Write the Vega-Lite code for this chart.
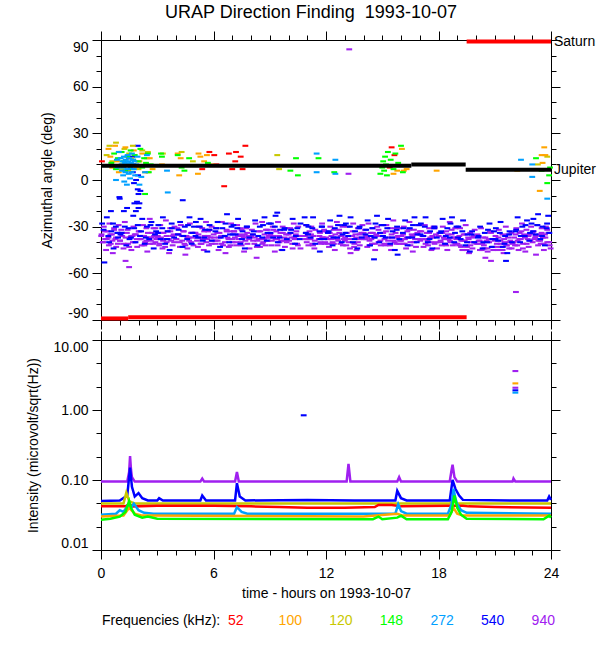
{
  "$schema": "https://vega.github.io/schema/vega-lite/v6.json",
  "title": {"text": "URAP Direction Finding \u00a01993-10-07", "anchor": "middle", "offset": 8},
  "padding": {"left": 25, "top": 4, "right": 2, "bottom": 2},
  "bounds": "flush",
  "spacing": 20,
  "datasets": {
    "angles": [
      {"t":0.03,"a":-35,"f":940},{"t":0.09,"a":-40,"f":940},{"t":0.15,"a":-30,"f":940},{"t":0.22,"a":-38,"f":940},{"t":0.27,"a":-45,"f":940},{"t":0.34,"a":-33,"f":940},{"t":0.4,"a":-37,"f":940},{"t":0.45,"a":-28,"f":940},{"t":0.52,"a":-41,"f":940},{"t":0.58,"a":-35,"f":940},{"t":0.63,"a":-47,"f":940},{"t":0.7,"a":-31,"f":940},{"t":0.76,"a":-38,"f":940},{"t":0.81,"a":-43,"f":940},{"t":0.88,"a":-34,"f":940},{"t":0.94,"a":-29,"f":940},
      {"t":1.02,"a":-39,"f":940},{"t":1.08,"a":-32,"f":940},{"t":1.13,"a":-36,"f":940},{"t":1.2,"a":-44,"f":940},{"t":1.27,"a":-27,"f":940},{"t":1.31,"a":-52,"f":940},{"t":1.38,"a":-34,"f":940},{"t":1.44,"a":-41,"f":940},{"t":1.5,"a":-56,"f":940},{"t":1.55,"a":-37,"f":940},{"t":1.62,"a":-45,"f":940},{"t":1.68,"a":-36,"f":940},{"t":1.73,"a":-30,"f":940},{"t":1.8,"a":-40,"f":940},{"t":1.86,"a":-35,"f":940},{"t":1.93,"a":-43,"f":940},
      {"t":2.05,"a":-33,"f":940},{"t":2.1,"a":-38,"f":940},{"t":2.17,"a":-42,"f":940},{"t":2.24,"a":-29,"f":940},{"t":2.3,"a":-36,"f":940},{"t":2.35,"a":-40,"f":940},{"t":2.42,"a":-31,"f":940},{"t":2.47,"a":-46,"f":940},{"t":2.54,"a":-37,"f":940},{"t":2.6,"a":-25,"f":940},{"t":2.66,"a":-39,"f":940},{"t":2.71,"a":-34,"f":940},{"t":2.78,"a":-41,"f":940},{"t":2.83,"a":-36,"f":940},{"t":2.9,"a":-31,"f":940},{"t":2.96,"a":-38,"f":940},
      {"t":3.03,"a":-36,"f":940},{"t":3.1,"a":-42,"f":940},{"t":3.16,"a":-29,"f":940},{"t":3.2,"a":-37,"f":940},{"t":3.28,"a":-44,"f":940},{"t":3.33,"a":-34,"f":940},{"t":3.4,"a":-38,"f":940},{"t":3.46,"a":-26,"f":940},{"t":3.5,"a":-40,"f":940},{"t":3.57,"a":-33,"f":940},{"t":3.63,"a":-47,"f":940},{"t":3.69,"a":-31,"f":940},{"t":3.74,"a":-39,"f":940},{"t":3.82,"a":-42,"f":940},{"t":3.87,"a":-35,"f":940},{"t":3.92,"a":-30,"f":940},
      {"t":4.02,"a":-38,"f":940},{"t":4.07,"a":-31,"f":940},{"t":4.15,"a":-35,"f":940},{"t":4.21,"a":-43,"f":940},{"t":4.26,"a":-29,"f":940},{"t":4.33,"a":-39,"f":940},{"t":4.38,"a":-33,"f":940},{"t":4.45,"a":-41,"f":940},{"t":4.5,"a":-48,"f":940},{"t":4.56,"a":-36,"f":940},{"t":4.61,"a":-44,"f":940},{"t":4.69,"a":-37,"f":940},{"t":4.74,"a":-28,"f":940},{"t":4.8,"a":-40,"f":940},{"t":4.85,"a":-34,"f":940},{"t":4.93,"a":-42,"f":940},
      {"t":5.04,"a":-34,"f":940},{"t":5.12,"a":-39,"f":940},{"t":5.17,"a":-43,"f":940},{"t":5.22,"a":-30,"f":940},{"t":5.3,"a":-37,"f":940},{"t":5.36,"a":-41,"f":940},{"t":5.4,"a":-31,"f":940},{"t":5.48,"a":-45,"f":940},{"t":5.53,"a":-36,"f":940},{"t":5.6,"a":-27,"f":940},{"t":5.65,"a":-38,"f":940},{"t":5.72,"a":-33,"f":940},{"t":5.76,"a":-42,"f":940},{"t":5.84,"a":-37,"f":940},{"t":5.9,"a":-30,"f":940},{"t":5.95,"a":-39,"f":940},
      {"t":6.03,"a":-37,"f":940},{"t":6.1,"a":-41,"f":940},{"t":6.14,"a":-31,"f":940},{"t":6.22,"a":-39,"f":940},{"t":6.27,"a":-45,"f":940},{"t":6.32,"a":-34,"f":940},{"t":6.4,"a":-36,"f":940},{"t":6.45,"a":-27,"f":940},{"t":6.51,"a":-42,"f":940},{"t":6.58,"a":-36,"f":940},{"t":6.64,"a":-47,"f":940},{"t":6.7,"a":-32,"f":940},{"t":6.75,"a":-37,"f":940},{"t":6.82,"a":-43,"f":940},{"t":6.88,"a":-33,"f":940},{"t":6.94,"a":-28,"f":940},
      {"t":7.02,"a":-40,"f":940},{"t":7.09,"a":-33,"f":940},{"t":7.14,"a":-37,"f":940},{"t":7.21,"a":-42,"f":940},{"t":7.26,"a":-29,"f":940},{"t":7.33,"a":-38,"f":940},{"t":7.37,"a":-35,"f":940},{"t":7.45,"a":-40,"f":940},{"t":7.5,"a":-32,"f":940},{"t":7.55,"a":-36,"f":940},{"t":7.63,"a":-46,"f":940},{"t":7.67,"a":-35,"f":940},{"t":7.74,"a":-31,"f":940},{"t":7.81,"a":-41,"f":940},{"t":7.86,"a":-36,"f":940},{"t":7.92,"a":-44,"f":940},
      {"t":8.05,"a":-32,"f":940},{"t":8.11,"a":-39,"f":940},{"t":8.18,"a":-41,"f":940},{"t":8.24,"a":-28,"f":940},{"t":8.3,"a":-50,"f":940},{"t":8.34,"a":-39,"f":940},{"t":8.41,"a":-33,"f":940},{"t":8.48,"a":-43,"f":940},{"t":8.52,"a":-38,"f":940},{"t":8.59,"a":-27,"f":940},{"t":8.65,"a":-40,"f":940},{"t":8.72,"a":-35,"f":940},{"t":8.78,"a":-42,"f":940},{"t":8.84,"a":-37,"f":940},{"t":8.89,"a":-32,"f":940},{"t":8.96,"a":-36,"f":940},
      {"t":9.03,"a":-35,"f":940},{"t":9.1,"a":-42,"f":940},{"t":9.16,"a":-30,"f":940},{"t":9.21,"a":-36,"f":940},{"t":9.27,"a":-46,"f":940},{"t":9.35,"a":-33,"f":940},{"t":9.4,"a":-38,"f":940},{"t":9.44,"a":-27,"f":940},{"t":9.52,"a":-40,"f":940},{"t":9.57,"a":-34,"f":940},{"t":9.63,"a":-45,"f":940},{"t":9.69,"a":-30,"f":940},{"t":9.77,"a":-39,"f":940},{"t":9.81,"a":-43,"f":940},{"t":9.87,"a":-35,"f":940},{"t":9.93,"a":-31,"f":940},
      {"t":10.03,"a":-39,"f":940},{"t":10.09,"a":-31,"f":940},{"t":10.15,"a":-37,"f":940},{"t":10.22,"a":-44,"f":940},{"t":10.28,"a":-28,"f":940},{"t":10.34,"a":-38,"f":940},{"t":10.39,"a":-35,"f":940},{"t":10.46,"a":-41,"f":940},{"t":10.52,"a":-30,"f":940},{"t":10.58,"a":-36,"f":940},{"t":10.64,"a":-44,"f":940},{"t":10.88,"a":-36,"f":940},{"t":10.93,"a":-29,"f":940},{"t":10.97,"a":-40,"f":940},
      {"t":11.02,"a":-35,"f":940},{"t":11.06,"a":-42,"f":940},{"t":11.12,"a":-33,"f":940},{"t":11.17,"a":-38,"f":940},{"t":11.22,"a":-30,"f":940},{"t":11.27,"a":-41,"f":940},{"t":11.33,"a":-36,"f":940},{"t":11.38,"a":-44,"f":940},{"t":11.43,"a":-32,"f":940},{"t":11.62,"a":-38,"f":940},{"t":11.68,"a":-34,"f":940},{"t":11.74,"a":-41,"f":940},{"t":11.79,"a":-28,"f":940},{"t":11.85,"a":-37,"f":940},{"t":11.9,"a":-32,"f":940},{"t":11.96,"a":-40,"f":940},
      {"t":12.04,"a":-33,"f":940},{"t":12.1,"a":-38,"f":940},{"t":12.16,"a":-43,"f":940},{"t":12.23,"a":-30,"f":940},{"t":12.29,"a":-36,"f":940},{"t":12.35,"a":-40,"f":940},{"t":12.41,"a":-32,"f":940},{"t":12.47,"a":-45,"f":940},{"t":12.53,"a":-37,"f":940},{"t":12.58,"a":-27,"f":940},{"t":12.65,"a":-39,"f":940},{"t":12.71,"a":-34,"f":940},{"t":12.77,"a":-41,"f":940},{"t":12.83,"a":-36,"f":940},{"t":12.88,"a":-30,"f":940},{"t":12.95,"a":-38,"f":940},
      {"t":13.02,"a":-37,"f":940},{"t":13.08,"a":-42,"f":940},{"t":13.15,"a":-30,"f":940},{"t":13.22,"a":-38,"f":940},{"t":13.28,"a":-44,"f":940},{"t":13.31,"a":-47,"f":940},{"t":13.39,"a":-36,"f":940},{"t":13.45,"a":-28,"f":940},{"t":13.51,"a":-41,"f":940},{"t":13.57,"a":-35,"f":940},{"t":13.63,"a":-45,"f":940},{"t":13.7,"a":-31,"f":940},{"t":13.76,"a":-38,"f":940},{"t":13.8,"a":-42,"f":940},{"t":13.88,"a":-34,"f":940},{"t":13.94,"a":-29,"f":940},
      {"t":14.03,"a":-38,"f":940},{"t":14.08,"a":-32,"f":940},{"t":14.14,"a":-36,"f":940},{"t":14.2,"a":-43,"f":940},{"t":14.27,"a":-28,"f":940},{"t":14.32,"a":-39,"f":940},{"t":14.38,"a":-34,"f":940},{"t":14.45,"a":-41,"f":940},{"t":14.49,"a":-31,"f":940},{"t":14.56,"a":-37,"f":940},{"t":14.62,"a":-45,"f":940},{"t":14.68,"a":-35,"f":940},{"t":14.73,"a":-30,"f":940},{"t":14.8,"a":-40,"f":940},{"t":14.86,"a":-36,"f":940},{"t":14.92,"a":-42,"f":940},
      {"t":15.05,"a":-34,"f":940},{"t":15.12,"a":-38,"f":940},{"t":15.17,"a":-42,"f":940},{"t":15.22,"a":-29,"f":940},{"t":15.3,"a":-37,"f":940},{"t":15.35,"a":-41,"f":940},{"t":15.42,"a":-31,"f":940},{"t":15.47,"a":-45,"f":940},{"t":15.53,"a":-37,"f":940},{"t":15.59,"a":-26,"f":940},{"t":15.66,"a":-40,"f":940},{"t":15.71,"a":-34,"f":940},{"t":15.77,"a":-41,"f":940},{"t":15.84,"a":-36,"f":940},{"t":15.89,"a":-31,"f":940},{"t":15.95,"a":-39,"f":940},
      {"t":16.02,"a":-36,"f":940},{"t":16.09,"a":-41,"f":940},{"t":16.15,"a":-30,"f":940},{"t":16.21,"a":-38,"f":940},{"t":16.27,"a":-44,"f":940},{"t":16.34,"a":-33,"f":940},{"t":16.39,"a":-37,"f":940},{"t":16.45,"a":-27,"f":940},{"t":16.5,"a":-40,"f":940},{"t":16.57,"a":-35,"f":940},{"t":16.63,"a":-46,"f":940},{"t":16.69,"a":-32,"f":940},{"t":16.75,"a":-38,"f":940},{"t":16.8,"a":-43,"f":940},{"t":16.87,"a":-34,"f":940},{"t":16.93,"a":-29,"f":940},
      {"t":17.03,"a":-39,"f":940},{"t":17.08,"a":-33,"f":940},{"t":17.14,"a":-36,"f":940},{"t":17.2,"a":-43,"f":940},{"t":17.27,"a":-29,"f":940},{"t":17.32,"a":-38,"f":940},{"t":17.38,"a":-34,"f":940},{"t":17.44,"a":-42,"f":940},{"t":17.5,"a":-31,"f":940},{"t":17.56,"a":-37,"f":940},{"t":17.62,"a":-45,"f":940},{"t":17.67,"a":-36,"f":940},{"t":17.74,"a":-30,"f":940},{"t":17.79,"a":-41,"f":940},{"t":17.86,"a":-35,"f":940},{"t":17.92,"a":-44,"f":940},
      {"t":18.04,"a":-34,"f":940},{"t":18.11,"a":-39,"f":940},{"t":18.17,"a":-42,"f":940},{"t":18.23,"a":-30,"f":940},{"t":18.28,"a":-37,"f":940},{"t":18.35,"a":-41,"f":940},{"t":18.41,"a":-33,"f":940},{"t":18.47,"a":-45,"f":940},{"t":18.53,"a":-38,"f":940},{"t":18.6,"a":-27,"f":940},{"t":18.65,"a":-40,"f":940},{"t":18.7,"a":-35,"f":940},{"t":18.77,"a":-42,"f":940},{"t":18.83,"a":-37,"f":940},{"t":18.89,"a":-31,"f":940},{"t":18.95,"a":-38,"f":940},
      {"t":19.03,"a":-37,"f":940},{"t":19.1,"a":-42,"f":940},{"t":19.15,"a":-31,"f":940},{"t":19.22,"a":-39,"f":940},{"t":19.27,"a":-45,"f":940},{"t":19.34,"a":-35,"f":940},{"t":19.4,"a":-39,"f":940},{"t":19.45,"a":-29,"f":940},{"t":19.52,"a":-43,"f":940},{"t":19.58,"a":-37,"f":940},{"t":19.63,"a":-47,"f":940},{"t":19.69,"a":-34,"f":940},{"t":19.75,"a":-40,"f":940},{"t":19.81,"a":-44,"f":940},{"t":19.88,"a":-36,"f":940},{"t":19.93,"a":-32,"f":940},
      {"t":20.02,"a":-41,"f":940},{"t":20.08,"a":-35,"f":940},{"t":20.14,"a":-39,"f":940},{"t":20.21,"a":-45,"f":940},{"t":20.27,"a":-31,"f":940},{"t":20.33,"a":-41,"f":940},{"t":20.38,"a":-37,"f":940},{"t":20.45,"a":-44,"f":940},{"t":20.5,"a":-50,"f":940},{"t":20.56,"a":-39,"f":940},{"t":20.62,"a":-46,"f":940},{"t":20.68,"a":-38,"f":940},{"t":20.74,"a":-33,"f":940},{"t":20.8,"a":-52,"f":940},{"t":20.86,"a":-38,"f":940},{"t":20.92,"a":-45,"f":940},
      {"t":21.04,"a":-36,"f":940},{"t":21.11,"a":-41,"f":940},{"t":21.16,"a":-45,"f":940},{"t":21.22,"a":-32,"f":940},{"t":21.3,"a":-39,"f":940},{"t":21.35,"a":-43,"f":940},{"t":21.41,"a":-35,"f":940},{"t":21.47,"a":-47,"f":940},{"t":21.53,"a":-40,"f":940},{"t":21.59,"a":-30,"f":940},{"t":21.65,"a":-42,"f":940},{"t":21.71,"a":-37,"f":940},{"t":21.77,"a":-44,"f":940},{"t":21.83,"a":-39,"f":940},{"t":21.89,"a":-34,"f":940},{"t":21.95,"a":-41,"f":940},
      {"t":22.03,"a":-37,"f":940},{"t":22.08,"a":-42,"f":940},{"t":22.13,"a":-72,"f":940},{"t":22.15,"a":-31,"f":940},{"t":22.22,"a":-39,"f":940},{"t":22.27,"a":-45,"f":940},{"t":22.33,"a":-34,"f":940},{"t":22.39,"a":-38,"f":940},{"t":22.45,"a":-28,"f":940},{"t":22.51,"a":-41,"f":940},{"t":22.57,"a":-35,"f":940},{"t":22.63,"a":-46,"f":940},{"t":22.69,"a":-32,"f":940},{"t":22.76,"a":-38,"f":940},{"t":22.81,"a":-43,"f":940},{"t":22.87,"a":-35,"f":940},{"t":22.94,"a":-30,"f":940},
      {"t":23.02,"a":-40,"f":940},{"t":23.08,"a":-33,"f":940},{"t":23.15,"a":-37,"f":940},{"t":23.2,"a":-48,"f":940},{"t":23.27,"a":-29,"f":940},{"t":23.33,"a":-39,"f":940},{"t":23.38,"a":-35,"f":940},{"t":23.45,"a":-41,"f":940},{"t":23.5,"a":-31,"f":940},{"t":23.57,"a":-37,"f":940},{"t":23.62,"a":-45,"f":940},{"t":23.68,"a":-35,"f":940},{"t":23.73,"a":-30,"f":940},{"t":23.8,"a":-40,"f":940},{"t":23.86,"a":-34,"f":940},{"t":23.93,"a":-42,"f":940},{"t":23.98,"a":-44,"f":940},
      {"t":13.24,"a":84,"f":940},{"t":13.2,"a":4,"f":940},
      {"t":0.01,"a":-36,"f":940},{"t":0.11,"a":-40,"f":940},{"t":0.2,"a":-33,"f":940},{"t":0.31,"a":-38,"f":940},{"t":0.42,"a":-42,"f":940},{"t":0.5,"a":-35,"f":940},{"t":0.61,"a":-39,"f":940},{"t":0.7,"a":-32,"f":940},{"t":0.8,"a":-37,"f":940},{"t":0.9,"a":-41,"f":940},
      {"t":1.01,"a":-39,"f":940},{"t":1.11,"a":-34,"f":940},{"t":1.2,"a":-41,"f":940},{"t":1.31,"a":-37,"f":940},{"t":1.42,"a":-32,"f":940},{"t":1.5,"a":-43,"f":940},{"t":1.61,"a":-36,"f":940},{"t":1.7,"a":-40,"f":940},{"t":1.8,"a":-35,"f":940},{"t":1.9,"a":-38,"f":940},
      {"t":2.01,"a":-33,"f":940},{"t":2.11,"a":-38,"f":940},{"t":2.2,"a":-36,"f":940},{"t":2.31,"a":-42,"f":940},{"t":2.42,"a":-39,"f":940},{"t":2.5,"a":-34,"f":940},{"t":2.61,"a":-41,"f":940},{"t":2.7,"a":-37,"f":940},{"t":2.8,"a":-31,"f":940},{"t":2.9,"a":-40,"f":940},
      {"t":3.01,"a":-37,"f":940},{"t":3.11,"a":-41,"f":940},{"t":3.2,"a":-34,"f":940},{"t":3.31,"a":-39,"f":940},{"t":3.42,"a":-43,"f":940},{"t":3.5,"a":-36,"f":940},{"t":3.61,"a":-38,"f":940},{"t":3.7,"a":-33,"f":940},{"t":3.8,"a":-36,"f":940},{"t":3.9,"a":-40,"f":940},
      {"t":4.01,"a":-38,"f":940},{"t":4.11,"a":-35,"f":940},{"t":4.2,"a":-40,"f":940},{"t":4.31,"a":-36,"f":940},{"t":4.42,"a":-33,"f":940},{"t":4.5,"a":-42,"f":940},{"t":4.61,"a":-37,"f":940},{"t":4.7,"a":-39,"f":940},{"t":4.8,"a":-34,"f":940},{"t":4.9,"a":-37,"f":940},
      {"t":5.01,"a":-34,"f":940},{"t":5.11,"a":-37,"f":940},{"t":5.2,"a":-35,"f":940},{"t":5.31,"a":-41,"f":940},{"t":5.42,"a":-38,"f":940},{"t":5.5,"a":-33,"f":940},{"t":5.61,"a":-40,"f":940},{"t":5.7,"a":-36,"f":940},{"t":5.8,"a":-32,"f":940},{"t":5.9,"a":-41,"f":940},
      {"t":6.01,"a":-35,"f":940},{"t":6.11,"a":-39,"f":940},{"t":6.2,"a":-34,"f":940},{"t":6.31,"a":-37,"f":940},{"t":6.42,"a":-41,"f":940},{"t":6.5,"a":-36,"f":940},{"t":6.61,"a":-40,"f":940},{"t":6.7,"a":-33,"f":940},{"t":6.8,"a":-38,"f":940},{"t":6.9,"a":-42,"f":940},
      {"t":7.01,"a":-38,"f":940},{"t":7.11,"a":-33,"f":940},{"t":7.2,"a":-40,"f":940},{"t":7.31,"a":-36,"f":940},{"t":7.42,"a":-31,"f":940},{"t":7.5,"a":-42,"f":940},{"t":7.61,"a":-37,"f":940},{"t":7.7,"a":-39,"f":940},{"t":7.8,"a":-34,"f":940},{"t":7.9,"a":-38,"f":940},
      {"t":8.01,"a":-36,"f":940},{"t":8.11,"a":-35,"f":940},{"t":8.2,"a":-37,"f":940},{"t":8.31,"a":-43,"f":940},{"t":8.42,"a":-38,"f":940},{"t":8.5,"a":-33,"f":940},{"t":8.61,"a":-41,"f":940},{"t":8.7,"a":-38,"f":940},{"t":8.8,"a":-32,"f":940},{"t":8.9,"a":-39,"f":940},
      {"t":9.01,"a":-37,"f":940},{"t":9.11,"a":-39,"f":940},{"t":9.2,"a":-32,"f":940},{"t":9.31,"a":-38,"f":940},{"t":9.42,"a":-42,"f":940},{"t":9.5,"a":-36,"f":940},{"t":9.61,"a":-39,"f":940},{"t":9.7,"a":-34,"f":940},{"t":9.8,"a":-37,"f":940},{"t":9.9,"a":-40,"f":940},
      {"t":10.01,"a":-35,"f":940},{"t":10.11,"a":-34,"f":940},{"t":10.2,"a":-41,"f":940},{"t":10.31,"a":-37,"f":940},{"t":10.42,"a":-33,"f":940},{"t":10.5,"a":-42,"f":940},{"t":10.61,"a":-36,"f":940},{"t":10.9,"a":-38,"f":940},{"t":10.95,"a":-34,"f":940},
      {"t":11.01,"a":-38,"f":940},{"t":11.11,"a":-37,"f":940},{"t":11.2,"a":-35,"f":940},{"t":11.31,"a":-42,"f":940},{"t":11.4,"a":-39,"f":940},{"t":11.65,"a":-36,"f":940},{"t":11.7,"a":-40,"f":940},{"t":11.8,"a":-37,"f":940},{"t":11.88,"a":-33,"f":940},{"t":11.93,"a":-41,"f":940},
      {"t":12.01,"a":-37,"f":940},{"t":12.11,"a":-41,"f":940},{"t":12.2,"a":-34,"f":940},{"t":12.31,"a":-38,"f":940},{"t":12.42,"a":-41,"f":940},{"t":12.5,"a":-35,"f":940},{"t":12.61,"a":-38,"f":940},{"t":12.7,"a":-32,"f":940},{"t":12.8,"a":-36,"f":940},{"t":12.9,"a":-42,"f":940},
      {"t":13.01,"a":-39,"f":940},{"t":13.11,"a":-34,"f":940},{"t":13.2,"a":-40,"f":940},{"t":13.31,"a":-36,"f":940},{"t":13.42,"a":-33,"f":940},{"t":13.5,"a":-43,"f":940},{"t":13.61,"a":-37,"f":940},{"t":13.7,"a":-40,"f":940},{"t":13.8,"a":-35,"f":940},{"t":13.9,"a":-37,"f":940},
      {"t":14.01,"a":-34,"f":940},{"t":14.11,"a":-38,"f":940},{"t":14.2,"a":-37,"f":940},{"t":14.31,"a":-42,"f":940},{"t":14.42,"a":-38,"f":940},{"t":14.5,"a":-34,"f":940},{"t":14.61,"a":-41,"f":940},{"t":14.7,"a":-36,"f":940},{"t":14.8,"a":-32,"f":940},{"t":14.9,"a":-39,"f":940},
      {"t":15.01,"a":-36,"f":940},{"t":15.11,"a":-41,"f":940},{"t":15.2,"a":-33,"f":940},{"t":15.31,"a":-39,"f":940},{"t":15.42,"a":-42,"f":940},{"t":15.5,"a":-35,"f":940},{"t":15.61,"a":-39,"f":940},{"t":15.7,"a":-31,"f":940},{"t":15.8,"a":-37,"f":940},{"t":15.9,"a":-41,"f":940},
      {"t":16.01,"a":-39,"f":940},{"t":16.11,"a":-35,"f":940},{"t":16.2,"a":-41,"f":940},{"t":16.31,"a":-37,"f":940},{"t":16.42,"a":-32,"f":940},{"t":16.5,"a":-42,"f":940},{"t":16.61,"a":-36,"f":940},{"t":16.7,"a":-40,"f":940},{"t":16.8,"a":-35,"f":940},{"t":16.9,"a":-38,"f":940},
      {"t":17.01,"a":-33,"f":940},{"t":17.11,"a":-38,"f":940},{"t":17.2,"a":-36,"f":940},{"t":17.31,"a":-41,"f":940},{"t":17.42,"a":-39,"f":940},{"t":17.5,"a":-34,"f":940},{"t":17.61,"a":-40,"f":940},{"t":17.7,"a":-37,"f":940},{"t":17.8,"a":-31,"f":940},{"t":17.9,"a":-40,"f":940},
      {"t":18.01,"a":-36,"f":940},{"t":18.11,"a":-40,"f":940},{"t":18.2,"a":-34,"f":940},{"t":18.31,"a":-38,"f":940},{"t":18.42,"a":-42,"f":940},{"t":18.5,"a":-35,"f":940},{"t":18.61,"a":-39,"f":940},{"t":18.7,"a":-32,"f":940},{"t":18.8,"a":-37,"f":940},{"t":18.9,"a":-41,"f":940},
      {"t":19.01,"a":-41,"f":940},{"t":19.11,"a":-36,"f":940},{"t":19.2,"a":-43,"f":940},{"t":19.31,"a":-39,"f":940},{"t":19.42,"a":-35,"f":940},{"t":19.5,"a":-45,"f":940},{"t":19.61,"a":-38,"f":940},{"t":19.7,"a":-42,"f":940},{"t":19.8,"a":-37,"f":940},{"t":19.9,"a":-40,"f":940},
      {"t":20.01,"a":-36,"f":940},{"t":20.11,"a":-41,"f":940},{"t":20.2,"a":-39,"f":940},{"t":20.31,"a":-45,"f":940},{"t":20.42,"a":-42,"f":940},{"t":20.5,"a":-37,"f":940},{"t":20.61,"a":-44,"f":940},{"t":20.7,"a":-40,"f":940},{"t":20.8,"a":-34,"f":940},{"t":20.9,"a":-43,"f":940},
      {"t":21.01,"a":-39,"f":940},{"t":21.11,"a":-43,"f":940},{"t":21.2,"a":-37,"f":940},{"t":21.31,"a":-41,"f":940},{"t":21.42,"a":-45,"f":940},{"t":21.5,"a":-38,"f":940},{"t":21.61,"a":-42,"f":940},{"t":21.7,"a":-35,"f":940},{"t":21.8,"a":-40,"f":940},{"t":21.9,"a":-44,"f":940},
      {"t":22.01,"a":-40,"f":940},{"t":22.11,"a":-35,"f":940},{"t":22.2,"a":-42,"f":940},{"t":22.31,"a":-38,"f":940},{"t":22.42,"a":-33,"f":940},{"t":22.5,"a":-44,"f":940},{"t":22.61,"a":-37,"f":940},{"t":22.7,"a":-41,"f":940},{"t":22.8,"a":-36,"f":940},{"t":22.9,"a":-39,"f":940},
      {"t":23.01,"a":-34,"f":940},{"t":23.11,"a":-38,"f":940},{"t":23.2,"a":-36,"f":940},{"t":23.31,"a":-42,"f":940},{"t":23.42,"a":-39,"f":940},{"t":23.5,"a":-34,"f":940},{"t":23.61,"a":-41,"f":940},{"t":23.7,"a":-37,"f":940},{"t":23.8,"a":-32,"f":940},{"t":23.9,"a":-40,"f":940},
      {"t":0.06,"a":-28,"f":540},{"t":0.18,"a":-53,"f":540},{"t":0.31,"a":-24,"f":540},{"t":0.43,"a":-40,"f":540},{"t":0.55,"a":-33,"f":540},{"t":0.67,"a":-44,"f":540},{"t":0.79,"a":-30,"f":540},{"t":0.91,"a":-37,"f":540},
      {"t":1.1,"a":-34,"f":540},{"t":1.22,"a":-20,"f":540},{"t":1.35,"a":-42,"f":540},{"t":1.47,"a":-31,"f":540},{"t":1.6,"a":-37,"f":540},{"t":1.72,"a":-23,"f":540},{"t":1.84,"a":-40,"f":540},{"t":1.96,"a":-29,"f":540},
      {"t":0.53,"a":-20,"f":540},{"t":0.98,"a":-11,"f":540},{"t":1.0,"a":-12,"f":540},{"t":1.39,"a":-18,"f":540},{"t":1.7,"a":5,"f":540},{"t":1.76,"a":-2,"f":540},{"t":1.78,"a":-15,"f":540},{"t":1.86,"a":-20,"f":540},{"t":1.87,"a":0,"f":540},{"t":1.92,"a":-14,"f":540},{"t":1.96,"a":-6,"f":540},{"t":1.96,"a":22,"f":540},{"t":1.98,"a":3,"f":540},{"t":2.0,"a":-9,"f":540},{"t":2.0,"a":-18,"f":540},{"t":2.05,"a":-15,"f":540},{"t":2.1,"a":-7,"f":540},{"t":1.66,"a":15,"f":540},{"t":1.72,"a":10,"f":540},
      {"t":2.08,"a":-36,"f":540},{"t":2.2,"a":-25,"f":540},{"t":2.33,"a":-41,"f":540},{"t":2.45,"a":-30,"f":540},{"t":2.57,"a":-38,"f":540},{"t":2.69,"a":-27,"f":540},{"t":2.81,"a":-44,"f":540},{"t":2.94,"a":-33,"f":540},
      {"t":3.06,"a":-29,"f":540},{"t":3.18,"a":-38,"f":540},{"t":3.3,"a":-24,"f":540},{"t":3.42,"a":-41,"f":540},{"t":3.55,"a":-33,"f":540},{"t":3.66,"a":-45,"f":540},{"t":3.78,"a":-31,"f":540},{"t":3.9,"a":-37,"f":540},
      {"t":4.1,"a":-35,"f":540},{"t":4.22,"a":-27,"f":540},{"t":4.36,"a":-13,"f":540},{"t":4.35,"a":-43,"f":540},{"t":4.47,"a":-30,"f":540},{"t":4.6,"a":-38,"f":540},{"t":4.72,"a":-24,"f":540},{"t":4.84,"a":-41,"f":540},{"t":4.96,"a":-30,"f":540},
      {"t":5.06,"a":-27,"f":540},{"t":5.18,"a":-37,"f":540},{"t":5.31,"a":-25,"f":540},{"t":5.43,"a":-39,"f":540},{"t":5.55,"a":-32,"f":540},{"t":5.67,"a":-46,"f":540},{"t":5.79,"a":-29,"f":540},{"t":5.91,"a":-39,"f":540},
      {"t":6.1,"a":-33,"f":540},{"t":6.22,"a":-27,"f":540},{"t":6.35,"a":-43,"f":540},{"t":6.47,"a":-31,"f":540},{"t":6.6,"a":-36,"f":540},{"t":6.72,"a":-22,"f":540},{"t":6.84,"a":-40,"f":540},{"t":6.96,"a":-30,"f":540},
      {"t":7.06,"a":-29,"f":540},{"t":7.18,"a":-35,"f":540},{"t":7.31,"a":-25,"f":540},{"t":7.43,"a":-41,"f":540},{"t":7.55,"a":-33,"f":540},{"t":7.67,"a":-44,"f":540},{"t":7.79,"a":-30,"f":540},{"t":7.91,"a":-37,"f":540},
      {"t":8.1,"a":-35,"f":540},{"t":8.22,"a":-26,"f":540},{"t":8.35,"a":-42,"f":540},{"t":8.47,"a":-30,"f":540},{"t":8.6,"a":-37,"f":540},{"t":8.72,"a":-24,"f":540},{"t":8.84,"a":-39,"f":540},{"t":8.96,"a":-28,"f":540},
      {"t":9.06,"a":-28,"f":540},{"t":9.18,"a":-37,"f":540},{"t":9.31,"a":-23,"f":540},{"t":9.4,"a":-21,"f":540},{"t":9.43,"a":-40,"f":540},{"t":9.55,"a":-32,"f":540},{"t":9.67,"a":-45,"f":540},{"t":9.79,"a":-31,"f":540},{"t":9.91,"a":-38,"f":540},
      {"t":10.1,"a":-34,"f":540},{"t":10.22,"a":-25,"f":540},{"t":10.35,"a":-41,"f":540},{"t":10.47,"a":-31,"f":540},{"t":10.6,"a":-38,"f":540},{"t":10.86,"a":-24,"f":540},{"t":10.96,"a":-29,"f":540},
      {"t":11.06,"a":-30,"f":540},{"t":11.18,"a":-37,"f":540},{"t":11.31,"a":-24,"f":540},{"t":11.43,"a":-41,"f":540},{"t":11.65,"a":-33,"f":540},{"t":11.67,"a":-46,"f":540},{"t":11.79,"a":-30,"f":540},{"t":11.91,"a":-38,"f":540},
      {"t":12.1,"a":-34,"f":540},{"t":12.22,"a":-26,"f":540},{"t":12.35,"a":-42,"f":540},{"t":12.47,"a":-31,"f":540},{"t":12.6,"a":-37,"f":540},{"t":12.72,"a":-23,"f":540},{"t":12.84,"a":-40,"f":540},{"t":12.96,"a":-29,"f":540},
      {"t":13.06,"a":-28,"f":540},{"t":13.18,"a":-36,"f":540},{"t":13.31,"a":-24,"f":540},{"t":13.43,"a":-40,"f":540},{"t":13.55,"a":-33,"f":540},{"t":13.67,"a":-44,"f":540},{"t":13.79,"a":-30,"f":540},{"t":13.91,"a":-37,"f":540},
      {"t":14.1,"a":-35,"f":540},{"t":14.22,"a":-26,"f":540},{"t":14.35,"a":-42,"f":540},{"t":14.47,"a":-31,"f":540},{"t":14.56,"a":-51,"f":540},{"t":14.6,"a":-37,"f":540},{"t":14.72,"a":-23,"f":540},{"t":14.84,"a":-40,"f":540},{"t":14.96,"a":-29,"f":540},
      {"t":15.06,"a":-29,"f":540},{"t":15.18,"a":-37,"f":540},{"t":15.31,"a":-25,"f":540},{"t":15.43,"a":-41,"f":540},{"t":15.55,"a":-33,"f":540},{"t":15.67,"a":-45,"f":540},{"t":15.79,"a":-30,"f":540},{"t":15.82,"a":-48,"f":540},{"t":15.91,"a":-38,"f":540},
      {"t":16.1,"a":-34,"f":540},{"t":16.22,"a":-26,"f":540},{"t":16.35,"a":-42,"f":540},{"t":16.47,"a":-31,"f":540},{"t":16.6,"a":-37,"f":540},{"t":16.72,"a":-24,"f":540},{"t":16.84,"a":-40,"f":540},{"t":16.96,"a":-29,"f":540},
      {"t":17.06,"a":-28,"f":540},{"t":17.18,"a":-36,"f":540},{"t":17.31,"a":-24,"f":540},{"t":17.43,"a":-40,"f":540},{"t":17.55,"a":-33,"f":540},{"t":17.67,"a":-44,"f":540},{"t":17.79,"a":-30,"f":540},{"t":17.91,"a":-37,"f":540},
      {"t":18.1,"a":-34,"f":540},{"t":18.22,"a":-25,"f":540},{"t":18.35,"a":-41,"f":540},{"t":18.47,"a":-31,"f":540},{"t":18.6,"a":-37,"f":540},{"t":18.72,"a":-24,"f":540},{"t":18.84,"a":-40,"f":540},{"t":18.96,"a":-30,"f":540},
      {"t":19.06,"a":-30,"f":540},{"t":19.18,"a":-38,"f":540},{"t":19.31,"a":-26,"f":540},{"t":19.43,"a":-42,"f":540},{"t":19.55,"a":-35,"f":540},{"t":19.67,"a":-46,"f":540},{"t":19.79,"a":-33,"f":540},{"t":19.91,"a":-40,"f":540},
      {"t":20.1,"a":-37,"f":540},{"t":20.22,"a":-30,"f":540},{"t":20.35,"a":-44,"f":540},{"t":20.47,"a":-34,"f":540},{"t":20.6,"a":-40,"f":540},{"t":20.72,"a":-28,"f":540},{"t":20.84,"a":-43,"f":540},{"t":20.96,"a":-33,"f":540},
      {"t":21.06,"a":-31,"f":540},{"t":21.18,"a":-39,"f":540},{"t":21.31,"a":-27,"f":540},{"t":21.43,"a":-43,"f":540},{"t":21.55,"a":-36,"f":540},{"t":21.6,"a":-52,"f":540},{"t":21.67,"a":-47,"f":540},{"t":21.79,"a":-33,"f":540},{"t":21.91,"a":-40,"f":540},
      {"t":22.1,"a":-33,"f":540},{"t":22.22,"a":-24,"f":540},{"t":22.35,"a":-40,"f":540},{"t":22.47,"a":-30,"f":540},{"t":22.6,"a":-36,"f":540},{"t":22.72,"a":-26,"f":540},{"t":22.84,"a":-39,"f":540},{"t":22.96,"a":-28,"f":540},
      {"t":23.06,"a":-25,"f":540},{"t":23.18,"a":-35,"f":540},{"t":23.31,"a":-22,"f":540},{"t":23.43,"a":-38,"f":540},{"t":23.55,"a":-30,"f":540},{"t":23.67,"a":-42,"f":540},{"t":23.79,"a":-28,"f":540},{"t":23.85,"a":-23,"f":540},{"t":23.91,"a":-34,"f":540},
      {"t":0.14,"a":-32,"f":540},{"t":0.39,"a":-36,"f":540},{"t":0.64,"a":-28,"f":540},{"t":0.88,"a":-34,"f":540},
      {"t":1.04,"a":-35,"f":540},{"t":1.27,"a":-30,"f":540},{"t":1.52,"a":-38,"f":540},{"t":1.77,"a":-31,"f":540},
      {"t":2.14,"a":-33,"f":540},{"t":2.39,"a":-37,"f":540},{"t":2.64,"a":-29,"f":540},{"t":2.88,"a":-35,"f":540},
      {"t":3.04,"a":-34,"f":540},{"t":3.27,"a":-31,"f":540},{"t":3.52,"a":-38,"f":540},{"t":3.77,"a":-28,"f":540},
      {"t":4.14,"a":-32,"f":540},{"t":4.39,"a":-36,"f":540},{"t":4.64,"a":-29,"f":540},{"t":4.88,"a":-34,"f":540},
      {"t":5.04,"a":-36,"f":540},{"t":5.27,"a":-30,"f":540},{"t":5.52,"a":-37,"f":540},{"t":5.77,"a":-32,"f":540},
      {"t":6.14,"a":-31,"f":540},{"t":6.39,"a":-37,"f":540},{"t":6.64,"a":-28,"f":540},{"t":6.88,"a":-35,"f":540},
      {"t":7.04,"a":-35,"f":540},{"t":7.27,"a":-31,"f":540},{"t":7.52,"a":-38,"f":540},{"t":7.77,"a":-30,"f":540},
      {"t":8.14,"a":-33,"f":540},{"t":8.39,"a":-36,"f":540},{"t":8.64,"a":-29,"f":540},{"t":8.88,"a":-34,"f":540},
      {"t":9.04,"a":-34,"f":540},{"t":9.27,"a":-30,"f":540},{"t":9.52,"a":-37,"f":540},{"t":9.77,"a":-32,"f":540},
      {"t":10.14,"a":-32,"f":540},{"t":10.39,"a":-36,"f":540},{"t":10.64,"a":-28,"f":540},{"t":10.92,"a":-34,"f":540},
      {"t":11.04,"a":-35,"f":540},{"t":11.27,"a":-31,"f":540},{"t":11.7,"a":-38,"f":540},{"t":11.77,"a":-30,"f":540},
      {"t":12.14,"a":-33,"f":540},{"t":12.39,"a":-37,"f":540},{"t":12.64,"a":-29,"f":540},{"t":12.88,"a":-35,"f":540},
      {"t":13.04,"a":-34,"f":540},{"t":13.27,"a":-30,"f":540},{"t":13.52,"a":-38,"f":540},{"t":13.77,"a":-31,"f":540},
      {"t":14.14,"a":-32,"f":540},{"t":14.39,"a":-36,"f":540},{"t":14.64,"a":-28,"f":540},{"t":14.88,"a":-34,"f":540},
      {"t":15.04,"a":-36,"f":540},{"t":15.27,"a":-31,"f":540},{"t":15.52,"a":-37,"f":540},{"t":15.77,"a":-32,"f":540},
      {"t":16.14,"a":-31,"f":540},{"t":16.39,"a":-37,"f":540},{"t":16.64,"a":-29,"f":540},{"t":16.88,"a":-35,"f":540},
      {"t":17.04,"a":-35,"f":540},{"t":17.27,"a":-30,"f":540},{"t":17.52,"a":-38,"f":540},{"t":17.77,"a":-31,"f":540},
      {"t":18.14,"a":-33,"f":540},{"t":18.39,"a":-36,"f":540},{"t":18.64,"a":-28,"f":540},{"t":18.88,"a":-34,"f":540},
      {"t":19.04,"a":-37,"f":540},{"t":19.27,"a":-33,"f":540},{"t":19.52,"a":-40,"f":540},{"t":19.77,"a":-35,"f":540},
      {"t":20.14,"a":-36,"f":540},{"t":20.39,"a":-40,"f":540},{"t":20.64,"a":-32,"f":540},{"t":20.88,"a":-38,"f":540},
      {"t":21.04,"a":-38,"f":540},{"t":21.27,"a":-34,"f":540},{"t":21.52,"a":-41,"f":540},{"t":21.77,"a":-35,"f":540},
      {"t":22.14,"a":-32,"f":540},{"t":22.39,"a":-36,"f":540},{"t":22.64,"a":-29,"f":540},{"t":22.88,"a":-34,"f":540},
      {"t":23.04,"a":-33,"f":540},{"t":23.27,"a":-29,"f":540},{"t":23.52,"a":-36,"f":540},{"t":23.77,"a":-31,"f":540},
      {"t":0.05,"a":12,"f":52},{"t":1.5,"a":14,"f":52},{"t":5.4,"a":7,"f":52},{"t":5.45,"a":9,"f":52},{"t":5.78,"a":18,"f":52},{"t":5.95,"a":9,"f":52},{"t":6.04,"a":16,"f":52},{"t":6.15,"a":10,"f":52},{"t":6.3,"a":9,"f":52},{"t":6.57,"a":-4,"f":52},{"t":6.82,"a":17,"f":52},{"t":7.0,"a":7,"f":52},{"t":7.16,"a":12,"f":52},{"t":7.2,"a":18,"f":52},{"t":7.45,"a":15,"f":52},{"t":7.55,"a":7,"f":52},{"t":7.7,"a":22,"f":52},{"t":15.4,"a":8,"f":52},{"t":15.5,"a":21,"f":52},{"t":15.65,"a":16,"f":52},
      {"t":0.3,"a":16,"f":120},{"t":0.45,"a":22,"f":120},{"t":0.6,"a":12,"f":120},{"t":0.8,"a":24,"f":120},{"t":0.95,"a":18,"f":120},{"t":1.1,"a":7,"f":120},{"t":1.25,"a":20,"f":120},{"t":1.5,"a":17,"f":120},{"t":1.7,"a":22,"f":120},{"t":2.0,"a":7,"f":120},{"t":2.2,"a":19,"f":120},{"t":2.45,"a":14,"f":120},{"t":2.5,"a":18,"f":120},{"t":2.6,"a":9,"f":120},{"t":3.3,"a":17,"f":120},{"t":4.3,"a":18,"f":120},{"t":4.9,"a":12,"f":120},{"t":9.4,"a":16,"f":120},{"t":9.5,"a":7,"f":120},{"t":23.3,"a":10,"f":120},{"t":23.8,"a":15,"f":120},
      {"t":0.4,"a":20,"f":100},{"t":0.5,"a":15,"f":100},{"t":0.6,"a":8,"f":100},{"t":0.75,"a":22,"f":100},{"t":0.85,"a":12,"f":100},{"t":0.95,"a":5,"f":100},{"t":1.05,"a":18,"f":100},{"t":1.15,"a":10,"f":100},{"t":1.3,"a":21,"f":100},{"t":1.45,"a":6,"f":100},{"t":1.6,"a":14,"f":100},{"t":1.75,"a":19,"f":100},{"t":1.9,"a":8,"f":100},{"t":2.05,"a":12,"f":100},{"t":2.2,"a":17,"f":100},{"t":2.35,"a":5,"f":100},{"t":2.49,"a":5,"f":100},{"t":2.6,"a":14,"f":100},{"t":2.75,"a":7,"f":100},{"t":3.25,"a":10,"f":100},{"t":4.09,"a":17,"f":100},{"t":4.17,"a":3,"f":100},{"t":4.25,"a":14,"f":100},{"t":4.4,"a":9,"f":100},{"t":5.17,"a":4,"f":100},{"t":5.2,"a":17,"f":100},{"t":5.3,"a":15,"f":100},{"t":5.5,"a":12,"f":100},{"t":5.65,"a":16,"f":100},{"t":5.9,"a":10,"f":100},{"t":15.6,"a":4,"f":100},{"t":15.8,"a":6,"f":100},{"t":15.9,"a":9,"f":100},{"t":16.05,"a":20,"f":100},{"t":16.15,"a":6,"f":100},{"t":16.3,"a":7,"f":100},{"t":17.9,"a":6,"f":100},{"t":22.2,"a":6,"f":100},{"t":23.4,"a":-7,"f":100},{"t":23.5,"a":16,"f":100},{"t":23.55,"a":11,"f":100},{"t":23.64,"a":21,"f":100},{"t":23.7,"a":16,"f":100},
      {"t":0.55,"a":11,"f":148},{"t":0.7,"a":17,"f":148},{"t":0.8,"a":7,"f":148},{"t":0.9,"a":14,"f":148},{"t":1.0,"a":9,"f":148},{"t":1.1,"a":18,"f":148},{"t":1.2,"a":12,"f":148},{"t":1.3,"a":6,"f":148},{"t":1.4,"a":15,"f":148},{"t":1.5,"a":10,"f":148},{"t":1.58,"a":19,"f":148},{"t":1.65,"a":7,"f":148},{"t":1.72,"a":13,"f":148},{"t":1.8,"a":16,"f":148},{"t":1.9,"a":9,"f":148},{"t":2.0,"a":12,"f":148},{"t":2.1,"a":20,"f":148},{"t":2.2,"a":8,"f":148},{"t":2.3,"a":14,"f":148},{"t":2.35,"a":-9,"f":148},{"t":2.4,"a":11,"f":148},{"t":2.5,"a":17,"f":148},{"t":2.55,"a":5,"f":148},{"t":2.65,"a":10,"f":148},{"t":3.2,"a":17,"f":148},{"t":3.25,"a":15,"f":148},{"t":4.09,"a":16,"f":148},{"t":4.3,"a":8,"f":148},{"t":4.45,"a":6,"f":148},{"t":4.7,"a":14,"f":148},{"t":5.7,"a":11,"f":148},{"t":10.1,"a":6,"f":148},{"t":10.4,"a":14,"f":148},{"t":10.5,"a":3,"f":148},{"t":11.6,"a":14,"f":148},{"t":12.44,"a":5,"f":148},{"t":14.9,"a":4,"f":148},{"t":15.0,"a":8,"f":148},{"t":15.05,"a":12,"f":148},{"t":15.1,"a":6,"f":148},{"t":15.15,"a":15,"f":148},{"t":15.2,"a":10,"f":148},{"t":15.25,"a":3,"f":148},{"t":15.3,"a":18,"f":148},{"t":15.35,"a":9,"f":148},{"t":15.45,"a":13,"f":148},{"t":15.6,"a":7,"f":148},{"t":15.7,"a":17,"f":148},{"t":15.85,"a":11,"f":148},{"t":16.0,"a":22,"f":148},{"t":16.1,"a":5,"f":148},{"t":23.2,"a":14,"f":148},{"t":23.5,"a":6,"f":148},{"t":23.8,"a":-2,"f":148},{"t":23.9,"a":3,"f":148},{"t":23.95,"a":8,"f":148},
      {"t":0.8,"a":0,"f":272},{"t":0.85,"a":13,"f":272},{"t":0.9,"a":8,"f":272},{"t":0.95,"a":18,"f":272},{"t":1.05,"a":14,"f":272},{"t":1.1,"a":10,"f":272},{"t":1.12,"a":6,"f":272},{"t":1.15,"a":12,"f":272},{"t":1.18,"a":3,"f":272},{"t":1.2,"a":8,"f":272},{"t":1.22,"a":15,"f":272},{"t":1.24,"a":-1,"f":272},{"t":1.28,"a":11,"f":272},{"t":1.3,"a":5,"f":272},{"t":1.32,"a":13,"f":272},{"t":1.35,"a":9,"f":272},{"t":1.38,"a":-3,"f":272},{"t":1.4,"a":7,"f":272},{"t":1.42,"a":16,"f":272},{"t":1.45,"a":12,"f":272},{"t":1.48,"a":4,"f":272},{"t":1.5,"a":10,"f":272},{"t":1.52,"a":14,"f":272},{"t":1.55,"a":1,"f":272},{"t":1.58,"a":8,"f":272},{"t":1.6,"a":11,"f":272},{"t":1.62,"a":5,"f":272},{"t":1.65,"a":17,"f":272},{"t":1.68,"a":9,"f":272},{"t":1.7,"a":13,"f":272},{"t":1.75,"a":7,"f":272},{"t":1.78,"a":12,"f":272},{"t":1.82,"a":3,"f":272},{"t":1.88,"a":10,"f":272},{"t":1.95,"a":15,"f":272},{"t":2.05,"a":-3,"f":272},{"t":2.15,"a":2,"f":272},{"t":2.35,"a":5,"f":272},{"t":2.45,"a":16,"f":272},{"t":3.52,"a":6,"f":272},{"t":3.56,"a":-8,"f":272},{"t":11.5,"a":17,"f":272},{"t":11.5,"a":5,"f":272},{"t":12.5,"a":13,"f":272},{"t":12.5,"a":4,"f":272},{"t":22.4,"a":13,"f":272},{"t":23.0,"a":10,"f":272},{"t":23.0,"a":2,"f":272},{"t":23.8,"a":-12,"f":272}
    ],
    "bodies": [
      {"body":"Saturn","t0":19.5,"t1":24,"a":89},
      {"body":"Saturn","t0":0,"t1":1.45,"a":-89},
      {"body":"Saturn","t0":1.45,"t1":19.5,"a":-88.3},
      {"body":"Jupiter","t0":0,"t1":16.55,"a":9.2},
      {"body":"Jupiter","t0":16.55,"t1":19.45,"a":10},
      {"body":"Jupiter","t0":19.45,"t1":24,"a":6.6}
    ],
    "intensity": [
      {"t":0,"i":0.095,"f":940},{"t":1.4,"i":0.095,"f":940},{"t":1.5,"i":0.13,"f":940},{"t":1.55,"i":0.22,"f":940},{"t":1.6,"i":0.14,"f":940},{"t":1.65,"i":0.11,"f":940},{"t":1.8,"i":0.095,"f":940},{"t":5.3,"i":0.095,"f":940},{"t":5.4,"i":0.105,"f":940},{"t":5.5,"i":0.095,"f":940},{"t":7.15,"i":0.095,"f":940},{"t":7.25,"i":0.13,"f":940},{"t":7.35,"i":0.095,"f":940},{"t":13.1,"i":0.095,"f":940},{"t":13.2,"i":0.17,"f":940},{"t":13.3,"i":0.095,"f":940},{"t":15.8,"i":0.095,"f":940},{"t":15.9,"i":0.11,"f":940},{"t":16.0,"i":0.095,"f":940},{"t":18.6,"i":0.095,"f":940},{"t":18.7,"i":0.14,"f":940},{"t":18.75,"i":0.165,"f":940},{"t":18.85,"i":0.11,"f":940},{"t":19.0,"i":0.095,"f":940},{"t":21.95,"i":0.095,"f":940},{"t":22.0,"i":0.105,"f":940},{"t":22.1,"i":0.095,"f":940},{"t":24,"i":0.095,"f":940},
      {"t":0,"i":0.05,"f":540},{"t":1.0,"i":0.051,"f":540},{"t":1.4,"i":0.06,"f":540},{"t":1.55,"i":0.15,"f":540},{"t":1.65,"i":0.08,"f":540},{"t":1.8,"i":0.058,"f":540},{"t":2.0,"i":0.065,"f":540},{"t":2.2,"i":0.055,"f":540},{"t":2.5,"i":0.051,"f":540},{"t":3.0,"i":0.051,"f":540},{"t":3.1,"i":0.055,"f":540},{"t":3.3,"i":0.051,"f":540},{"t":5.3,"i":0.051,"f":540},{"t":5.4,"i":0.06,"f":540},{"t":5.6,"i":0.051,"f":540},{"t":7.15,"i":0.051,"f":540},{"t":7.25,"i":0.09,"f":540},{"t":7.4,"i":0.058,"f":540},{"t":7.7,"i":0.051,"f":540},{"t":11,"i":0.052,"f":540},{"t":13.5,"i":0.051,"f":540},{"t":15.7,"i":0.051,"f":540},{"t":15.8,"i":0.07,"f":540},{"t":16.0,"i":0.055,"f":540},{"t":16.3,"i":0.051,"f":540},{"t":18.6,"i":0.051,"f":540},{"t":18.75,"i":0.1,"f":540},{"t":18.9,"i":0.075,"f":540},{"t":19.1,"i":0.06,"f":540},{"t":19.3,"i":0.052,"f":540},{"t":22,"i":0.051,"f":540},{"t":23.8,"i":0.051,"f":540},{"t":23.9,"i":0.058,"f":540},{"t":24,"i":0.052,"f":540},
      {"t":0,"i":0.046,"f":120},{"t":1.2,"i":0.046,"f":120},{"t":1.35,"i":0.066,"f":120},{"t":1.5,"i":0.05,"f":120},{"t":1.8,"i":0.046,"f":120},{"t":12,"i":0.046,"f":120},{"t":18.6,"i":0.046,"f":120},{"t":18.8,"i":0.05,"f":120},{"t":19.0,"i":0.046,"f":120},{"t":24,"i":0.046,"f":120},
      {"t":0,"i":0.042,"f":52},{"t":1.3,"i":0.042,"f":52},{"t":1.5,"i":0.045,"f":52},{"t":1.7,"i":0.042,"f":52},{"t":3,"i":0.043,"f":52},{"t":6,"i":0.043,"f":52},{"t":8,"i":0.042,"f":52},{"t":9.5,"i":0.041,"f":52},{"t":11,"i":0.04,"f":52},{"t":13,"i":0.04,"f":52},{"t":14.6,"i":0.041,"f":52},{"t":14.8,"i":0.044,"f":52},{"t":15.5,"i":0.044,"f":52},{"t":16,"i":0.042,"f":52},{"t":18.5,"i":0.043,"f":52},{"t":19.3,"i":0.043,"f":52},{"t":19.6,"i":0.042,"f":52},{"t":21,"i":0.041,"f":52},{"t":24,"i":0.04,"f":52},
      {"t":0,"i":0.032,"f":272},{"t":0.8,"i":0.033,"f":272},{"t":1.0,"i":0.037,"f":272},{"t":1.2,"i":0.035,"f":272},{"t":1.4,"i":0.042,"f":272},{"t":1.6,"i":0.04,"f":272},{"t":1.75,"i":0.046,"f":272},{"t":2.0,"i":0.037,"f":272},{"t":2.3,"i":0.034,"f":272},{"t":2.8,"i":0.033,"f":272},{"t":7.1,"i":0.033,"f":272},{"t":7.25,"i":0.041,"f":272},{"t":7.5,"i":0.035,"f":272},{"t":7.8,"i":0.033,"f":272},{"t":15.7,"i":0.033,"f":272},{"t":15.85,"i":0.045,"f":272},{"t":16.0,"i":0.036,"f":272},{"t":16.3,"i":0.033,"f":272},{"t":18.5,"i":0.033,"f":272},{"t":18.7,"i":0.045,"f":272},{"t":18.8,"i":0.075,"f":272},{"t":18.9,"i":0.055,"f":272},{"t":19.0,"i":0.045,"f":272},{"t":19.2,"i":0.037,"f":272},{"t":19.5,"i":0.034,"f":272},{"t":24,"i":0.033,"f":272},
      {"t":0,"i":0.03,"f":100},{"t":1.2,"i":0.031,"f":100},{"t":1.5,"i":0.04,"f":100},{"t":1.8,"i":0.033,"f":100},{"t":2.2,"i":0.031,"f":100},{"t":14,"i":0.03,"f":100},{"t":15.8,"i":0.033,"f":100},{"t":16.1,"i":0.031,"f":100},{"t":18.6,"i":0.031,"f":100},{"t":18.8,"i":0.04,"f":100},{"t":19.0,"i":0.033,"f":100},{"t":19.3,"i":0.031,"f":100},{"t":24,"i":0.031,"f":100},
      {"t":0,"i":0.027,"f":148},{"t":0.5,"i":0.028,"f":148},{"t":1.0,"i":0.03,"f":148},{"t":1.3,"i":0.035,"f":148},{"t":1.5,"i":0.05,"f":148},{"t":1.6,"i":0.04,"f":148},{"t":1.8,"i":0.032,"f":148},{"t":2.2,"i":0.029,"f":148},{"t":2.5,"i":0.03,"f":148},{"t":3.0,"i":0.028,"f":148},{"t":14.5,"i":0.0275,"f":148},{"t":14.8,"i":0.03,"f":148},{"t":15.0,"i":0.0275,"f":148},{"t":15.8,"i":0.029,"f":148},{"t":16.0,"i":0.031,"f":148},{"t":16.3,"i":0.0275,"f":148},{"t":18.5,"i":0.0275,"f":148},{"t":18.7,"i":0.035,"f":148},{"t":18.85,"i":0.06,"f":148},{"t":19.0,"i":0.04,"f":148},{"t":19.2,"i":0.032,"f":148},{"t":19.5,"i":0.028,"f":148},{"t":23.6,"i":0.0275,"f":148},{"t":23.9,"i":0.031,"f":148},{"t":24,"i":0.029,"f":148}
    ],
    "bursts": [
      {"t":22.1,"i":3.6,"f":940},{"t":22.1,"i":2.4,"f":100},{"t":22.1,"i":2.08,"f":940},{"t":22.1,"i":1.91,"f":540},{"t":22.1,"i":1.77,"f":272},{"t":10.81,"i":0.84,"f":540}
    ]
  },
  "vconcat": [
    {
      "width": 450,
      "height": 280,
      "layer": [
        {
          "data": {"name": "angles"},
          "mark": {"type": "point", "shape": "M-1,-0.36H1V0.36H-1Z", "filled": true, "size": 34, "opacity": 1, "strokeWidth": 0},
          "encoding": {
            "x": {"field": "t", "type": "quantitative", "scale": {"domain": [0, 24], "nice": false},
              "axis": {"values": [0,1,2,3,4,5,6,7,8,9,10,11,12,13,14,15,16,17,18,19,20,21,22,23,24], "labels": false, "title": null,
                "tickSize": {"condition": {"test": "datum.value % 6 === 0", "value": 9}, "value": 5}}},
            "y": {"field": "a", "type": "quantitative", "scale": {"domain": [-90, 90], "nice": false},
              "axis": {"values": [-90,-80,-70,-60,-50,-40,-30,-20,-10,0,10,20,30,40,50,60,70,80,90],
                "labelExpr": "datum.value % 30 === 0 ? '' + datum.value : ''", "labelFlush": true, "labelOverlap": false, "labelPadding": 4,
                "tickSize": {"condition": {"test": "datum.value % 30 === 0", "value": 9}, "value": 5},
                "title": "Azimuthal angle (deg)", "titleX": -54, "titleBaseline": "middle"}},
            "color": {"field": "f", "type": "nominal",
              "scale": {"domain": [52,100,120,148,272,540,940], "range": ["#ff0000","#ffa500","#c8c800","#00ff00","#00a0ff","#0000ff","#a020f0"]},
              "legend": {"title": "Frequencies (kHz):", "orient": "none", "legendX": 1, "legendY": 574, "direction": "horizontal", "columns": 7,
                "titleOrient": "left", "titlePadding": 7, "symbolSize": 0, "symbolOpacity": 0, "symbolStrokeWidth": 0, "labelOffset": -14,
                "columnPadding": 26.6, "gridAlign": "all", "labelColor": {"expr": "scale('color', datum.value)"}, "padding": 0}}
          }
        },
        {
          "data": {"name": "bodies"},
          "mark": {"type": "rule", "strokeWidth": 4},
          "encoding": {
            "x": {"field": "t0", "type": "quantitative",
              "axis": {"orient": "top", "values": [0,1,2,3,4,5,6,7,8,9,10,11,12,13,14,15,16,17,18,19,20,21,22,23,24], "labels": false, "title": null,
                "tickSize": {"condition": {"test": "datum.value % 6 === 0", "value": 9}, "value": 5}}},
            "x2": {"field": "t1"},
            "y": {"field": "a", "type": "quantitative",
              "axis": {"orient": "right", "values": [-90,-80,-70,-60,-50,-40,-30,-20,-10,0,10,20,30,40,50,60,70,80,90], "labels": false, "title": null,
                "tickSize": {"condition": {"test": "datum.value % 30 === 0", "value": 9}, "value": 5}}},
            "color": {"condition": {"test": "datum.body === 'Jupiter'", "value": "black"}, "value": "#ff0000"}
          }
        },
        {
          "data": {"name": "bodies"},
          "transform": [{"filter": "datum.t1 == 24"}],
          "mark": {"type": "text", "align": "left", "baseline": "middle", "dx": 3, "fontSize": 14, "color": "black"},
          "encoding": {
            "x": {"field": "t1", "type": "quantitative", "axis": null},
            "y": {"field": "a", "type": "quantitative", "axis": null},
            "text": {"field": "body"}
          }
        }
      ],
      "resolve": {"axis": {"x": "independent", "y": "independent"}}
    },
    {
      "width": 450,
      "height": 210,
      "layer": [
        {
          "data": {"name": "intensity"},
          "mark": {"type": "line", "strokeWidth": 2.5},
          "encoding": {
            "x": {"field": "t", "type": "quantitative", "scale": {"domain": [0, 24], "nice": false},
              "axis": {"values": [0,1,2,3,4,5,6,7,8,9,10,11,12,13,14,15,16,17,18,19,20,21,22,23,24],
                "labelExpr": "datum.value % 6 === 0 ? datum.label : ''", "labelFlush": false, "labelOverlap": false, "labelPadding": 7,
                "tickSize": {"condition": {"test": "datum.value % 6 === 0", "value": 9}, "value": 5},
                "title": "time - hours on 1993-10-07", "titleY": 43, "titleBaseline": "middle"}},
            "y": {"field": "i", "type": "quantitative", "scale": {"type": "log", "domain": [0.01, 10], "nice": false},
              "axis": {"values": [0.01,0.0215443,0.0464159,0.1,0.215443,0.464159,1,2.15443,4.64159,10],
                "labelExpr": "datum.value === 0.01 || datum.value === 0.1 || datum.value === 1 || datum.value === 10 ? format(datum.value, '.2f') : ''",
                "labelFlush": true, "labelOverlap": false, "labelPadding": 4,
                "tickSize": {"condition": {"test": "datum.value === 0.01 || datum.value === 0.1 || datum.value === 1 || datum.value === 10", "value": 9}, "value": 5},
                "title": "Intensity (microvolt/sqrt(Hz))", "titleX": -68, "titleBaseline": "middle"}},
            "color": {"field": "f", "type": "nominal",
              "scale": {"domain": [52,100,120,148,272,540,940], "range": ["#ff0000","#ffa500","#c8c800","#00ff00","#00a0ff","#0000ff","#a020f0"]},
              "legend": {"title": "Frequencies (kHz):", "orient": "none", "legendX": 1, "legendY": 574, "direction": "horizontal", "columns": 7,
                "titleOrient": "left", "titlePadding": 7, "symbolSize": 0, "symbolOpacity": 0, "symbolStrokeWidth": 0, "labelOffset": -14,
                "columnPadding": 26.6, "gridAlign": "all", "labelColor": {"expr": "scale('color', datum.value)"}, "padding": 0}}
          }
        },
        {
          "data": {"name": "bursts"},
          "mark": {"type": "point", "shape": "M-1,-0.36H1V0.36H-1Z", "filled": true, "size": 34, "opacity": 1, "strokeWidth": 0},
          "encoding": {
            "x": {"field": "t", "type": "quantitative",
              "axis": {"orient": "top", "values": [0,1,2,3,4,5,6,7,8,9,10,11,12,13,14,15,16,17,18,19,20,21,22,23,24], "labels": false, "title": null,
                "tickSize": {"condition": {"test": "datum.value % 6 === 0", "value": 9}, "value": 5}}},
            "y": {"field": "i", "type": "quantitative",
              "axis": {"orient": "right", "values": [0.01,0.0215443,0.0464159,0.1,0.215443,0.464159,1,2.15443,4.64159,10], "labels": false, "title": null,
                "tickSize": {"condition": {"test": "datum.value === 0.01 || datum.value === 0.1 || datum.value === 1 || datum.value === 10", "value": 9}, "value": 5}}},
            "color": {"field": "f", "type": "nominal", "legend": null}
          }
        }
      ],
      "resolve": {"axis": {"x": "independent", "y": "independent"}}
    }
  ],
  "resolve": {"scale": {"color": "shared"}, "legend": {"color": "shared"}},
  "config": {
    "font": "Liberation Sans",
    "view": {"stroke": "black", "strokeWidth": 1},
    "axis": {"domainColor": "black", "tickColor": "black", "labelColor": "black", "titleColor": "black", "labelFontSize": 14, "titleFontSize": 14,
      "titleFontWeight": "normal", "grid": false, "tickWidth": 1, "domainWidth": 1, "labelFont": "Liberation Sans", "titleFont": "Liberation Sans"},
    "title": {"fontSize": 18, "fontWeight": "normal", "color": "black", "font": "Liberation Sans"},
    "legend": {"labelFontSize": 14, "titleFontSize": 14, "titleFontWeight": "normal", "titleColor": "black", "labelFont": "Liberation Sans", "titleFont": "Liberation Sans"}
  }
}
